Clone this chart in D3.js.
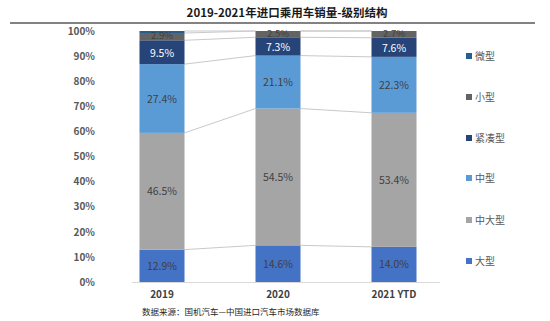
<!DOCTYPE html>
<html><head><meta charset="utf-8">
<script src="https://cdn.jsdelivr.net/npm/d3@7"></script>
<style>
html,body{margin:0;padding:0;background:#fff;}
svg{display:block;font-family:"Noto Sans CJK SC","Open Sans",sans-serif;}
</style></head>
<body><svg id="c" width="550" height="321"></svg>
<script>
const categories = ["2019", "2020", "2021 YTD"];
const seriesNames = ["大型", "中大型", "中型", "紧凑型", "小型", "微型"];
const large      = [12.9, 14.6, 14.0];
const midLarge   = [46.5, 54.5, 53.4];
const mid        = [27.4, 21.1, 22.3];
const compact    = [9.5, 7.3, 7.6];
const small      = [2.9, 2.5, 2.7];
const mini       = [0.8, 0.0, 0.0];
const yTicks = [0, 10, 20, 30, 40, 50, 60, 70, 80, 90, 100];
const title = "2019-2021年进口乘用车销量-级别结构";
const source = "数据来源：国机汽车—中国进口汽车市场数据库";

const seriesValues = [large, midLarge, mid, compact, small, mini];
const colors = ["#4472C4", "#A5A5A5", "#5B9BD5", "#264478", "#636363", "#255E91"];
const labelColors = ["#404040", "#404040", "#404040", "#ffffff", "#404040", "#404040"];

const svg = d3.select("#c");

svg.append("text").attr("x", 287).attr("y", 17).attr("text-anchor", "middle")
  .attr("font-size", 11.5).attr("font-weight", "bold").attr("fill", "#1a1a1a").text(title);
svg.append("line").attr("x1", 10).attr("x2", 535).attr("y1", 23).attr("y2", 23)
  .attr("stroke", "#595959").attr("stroke-width", 1.5);

const x = d3.scaleBand().domain(categories).range([104, 452]).paddingInner(0.612).paddingOuter(0.306);
const y = d3.scaleLinear().domain([0, 100]).range([282, 31]);

const table = categories.map((c, i) => {
  const o = { cat: c };
  seriesNames.forEach((s, k) => o[s] = seriesValues[k][i]);
  return o;
});
const stacked = d3.stack().keys(seriesNames)(table);

svg.append("line").attr("x1", 132).attr("x2", 440).attr("y1", y(0) + 0.5).attr("y2", y(0) + 0.5)
  .attr("stroke", "#d9d9d9").attr("stroke-width", 1);

const gl = svg.append("g");
stacked.forEach(layer => {
  for (let i = 0; i < categories.length - 1; i++) {
    gl.append("line")
      .attr("x1", x(categories[i]) + x.bandwidth()).attr("x2", x(categories[i + 1]))
      .attr("y1", y(layer[i][1])).attr("y2", y(layer[i + 1][1]))
      .attr("stroke", "#c9c9c9").attr("stroke-width", 1);
  }
});

stacked.forEach((layer, k) => {
  svg.append("g").selectAll("rect").data(layer).join("rect")
    .attr("x", d => x(d.data.cat)).attr("width", x.bandwidth())
    .attr("y", d => y(d[1])).attr("height", d => Math.max(0, y(d[0]) - y(d[1])))
    .attr("fill", colors[k]);
});

stacked.forEach((layer, k) => {
  if (seriesNames[k] === "微型") return;
  const isSmall = seriesNames[k] === "小型";
  const isCompact = seriesNames[k] === "紧凑型";
  svg.append("g").selectAll("text").data(layer).join("text")
    .attr("x", d => x(d.data.cat) + x.bandwidth() / 2)
    .attr("y", d => (y(d[0]) + y(d[1])) / 2 + (isSmall ? 2.5 : isCompact ? 5 : 4))
    .attr("text-anchor", "middle").attr("font-size", isSmall ? 9.5 : 10.5)
    .attr("fill", labelColors[k])
    .text(d => (d[1] - d[0]).toFixed(1) + "%");
});

const ya = svg.append("g").attr("transform", "translate(95,0)")
  .call(d3.axisLeft(y).tickValues(yTicks).tickFormat(d => d + "%").tickSize(0).tickPadding(0));
ya.select(".domain").remove();
ya.selectAll("text").attr("font-size", 10).attr("font-weight", "bold").attr("fill", "#595959")
  .attr("font-family", "\"Noto Sans CJK SC\",sans-serif");

const xa = svg.append("g").attr("transform", "translate(0," + y(0) + ")")
  .call(d3.axisBottom(x).tickSize(0).tickPadding(9));
xa.select(".domain").remove();
xa.selectAll("text").attr("font-size", 10).attr("font-weight", "bold").attr("fill", "#404040")
  .attr("font-family", "\"Noto Sans CJK SC\",sans-serif");

const legendY = [56, 97, 138, 178, 220, 261];
const order = [5, 4, 3, 2, 1, 0];
order.forEach((k, j) => {
  const g = svg.append("g").attr("transform", "translate(466," + legendY[j] + ")");
  g.append("rect").attr("x", 0).attr("y", -3).attr("width", 6).attr("height", 6).attr("fill", colors[k]);
  g.append("text").attr("x", 9).attr("y", 3.5).attr("font-size", 10).attr("fill", "#595959").text(seriesNames[k]);
});

svg.append("text").attr("x", 142).attr("y", 315).attr("font-size", 8.5).attr("fill", "#262626").text(source);
</script></body></html>
